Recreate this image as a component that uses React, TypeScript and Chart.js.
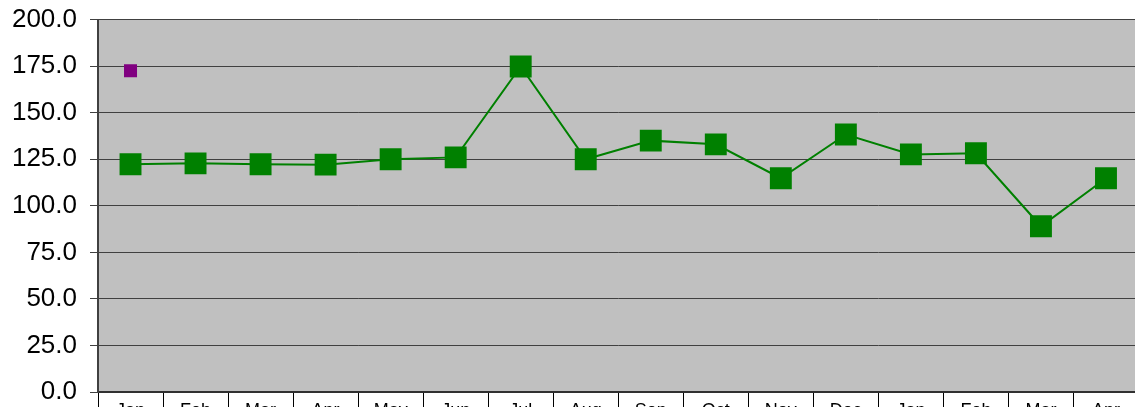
import React, { useEffect, useRef } from "react";
import { Chart, registerables } from "chart.js";

Chart.register(...registerables);

const categories = ["Jan", "Feb", "Mar", "Apr", "May", "Jun", "Jul", "Aug", "Sep", "Oct", "Nov", "Dec", "Jan", "Feb", "Mar", "Apr"];
const mainSeries = [122.3, 122.8, 122.3, 122.1, 125.0, 126.0, 174.8, 125.0, 135.0, 133.0, 114.8, 138.3, 127.6, 128.2, 89.0, 114.8];
const markerSeries: (number | null)[] = [172.5, null, null, null, null, null, null, null, null, null, null, null, null, null, null, null];
const yMin = 0;
const yMax = 200;
const yStep = 25;

const W = 1154;
const H = 439;

const bgPlugin = {
  id: "plotBg",
  beforeDraw(chart: any) {
    const { ctx, chartArea } = chart;
    ctx.save();
    ctx.fillStyle = "#c0c0c0";
    ctx.fillRect(chartArea.left, chartArea.top, chartArea.right - chartArea.left, chartArea.bottom - chartArea.top);
    ctx.restore();
  },
};

export default function App() {
  const ref = useRef<HTMLCanvasElement>(null);
  useEffect(() => {
    document.body.style.margin = "0";
    document.documentElement.style.overflow = "hidden";
    const canvas = ref.current!;
    const chart = new Chart(canvas, {
      type: "line",
      data: {
        labels: categories,
        datasets: [
          {
            data: mainSeries,
            borderColor: "#008000",
            backgroundColor: "#008000",
            borderWidth: 2,
            pointStyle: "rect",
            pointRadius: 15.5,
            pointBorderWidth: 0,
            pointBackgroundColor: "#008000",
            tension: 0,
          },
          {
            data: markerSeries,
            showLine: false,
            pointStyle: "rect",
            pointRadius: 9.2,
            pointBorderWidth: 0,
            pointBackgroundColor: "#800080",
            backgroundColor: "#800080",
            borderColor: "#800080",
          },
        ],
      },
      options: {
        responsive: false,
        animation: false,
        events: [],
        layout: { padding: { top: 10, left: 0, right: 0, bottom: 0 } },
        plugins: { legend: { display: false }, tooltip: { enabled: false } },
        scales: {
          x: {
            offset: true,
            afterFit(scale: any) {
              scale.height = 38;
            },
            grid: {
              offset: true,
              drawOnChartArea: false,
              tickLength: 15,
              color: "#000000",
              lineWidth: 1,
            },
            border: { color: "#303030", width: 2 },
            ticks: {
              color: "#000000",
              padding: -7,
              maxRotation: 0,
              autoSkip: false,
              font: { family: "'Liberation Sans', Arial", size: 18 },
            },
          },
          y: {
            min: yMin,
            max: yMax,
            afterFit(scale: any) {
              scale.width = 98;
            },
            grid: {
              color: "#404040",
              lineWidth: 1,
              tickLength: 8,
            },
            border: { color: "#404040", width: 2 },
            ticks: {
              stepSize: yStep,
              color: "#000000",
              padding: 13,
              font: { family: "'Liberation Sans', Arial", size: 26 },
              callback: (v: any) => Number(v).toFixed(1),
            },
          },
        },
      },
      plugins: [bgPlugin],
    });
    return () => chart.destroy();
  }, []);
  return (
    <div style={{ position: "absolute", left: 0, top: -9, width: W, height: H }}>
      <canvas ref={ref} width={W} height={H} style={{ width: W, height: H }} />
    </div>
  );
}
